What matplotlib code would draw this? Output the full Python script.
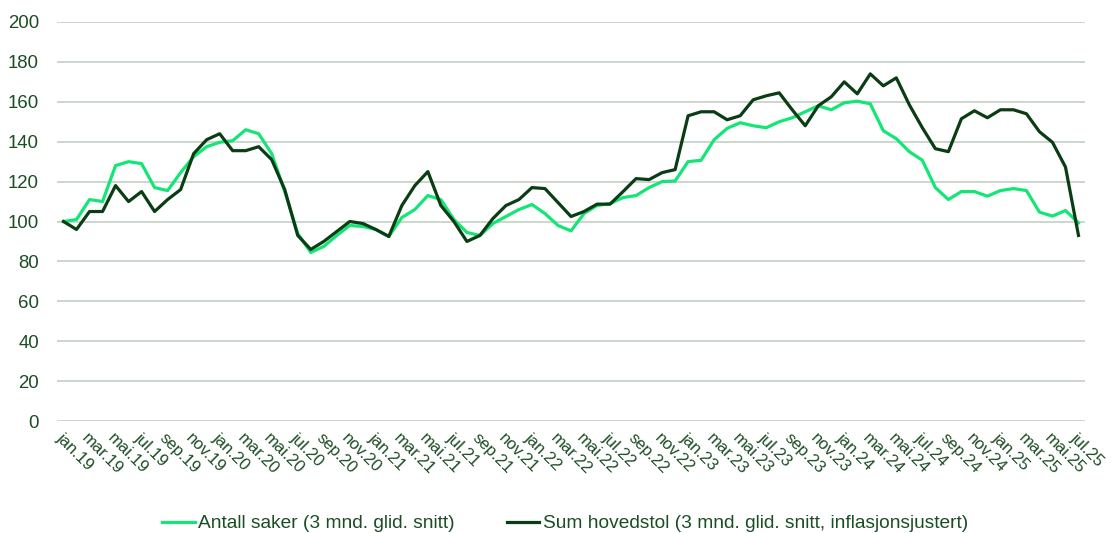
import matplotlib
matplotlib.use('agg')
import matplotlib.pyplot as plt
import numpy as np

plt.rcParams['font.family'] = ['Liberation Sans', 'DejaVu Sans']

#month labels, jan.19 to jul.25
mnd = ['jan', 'feb', 'mar', 'apr', 'mai', 'jun', 'jul', 'aug', 'sep', 'okt', 'nov', 'des']
months = [f'{m}.{y}' for y in range(19, 26) for m in mnd][:79]

#Antall saker (3 mnd. glid. snitt)
antall = [100, 101, 111, 110, 128, 130, 129, 117, 115.5, 124.5, 132.5, 137.5,
          139.7, 140.5, 146, 144, 134, 115, 94, 84.5, 87.5, 93, 98, 97.5,
          96, 92.5, 102, 106, 113, 111, 101, 94.5, 93, 99, 102.5, 106,
          108.5, 104, 98, 95.3, 104, 108, 109, 112, 113, 117, 120, 120.3,
          130, 130.7, 141, 146.7, 149.5, 148, 147, 150, 152, 155, 158, 156,
          159.5, 160.3, 159, 145.5, 141.5, 135, 130.7, 117, 111, 115, 115, 112.7,
          115.5, 116.5, 115.5, 104.7, 102.7, 105.5, 99.3]

#Sum hovedstol (3 mnd. glid. snitt, inflasjonsjustert)
hovedstol = [100, 96, 105, 105, 118, 110, 115, 105, 111, 116, 134, 141,
             144, 135.5, 135.5, 137.5, 131, 116, 93, 86, 90, 95, 100, 99,
             96, 92.5, 108, 118, 125, 108, 100, 90, 93, 101.5, 108, 111,
             117, 116.5, 109.5, 102.5, 105, 108.7, 108.7, 115, 121.5, 121, 124.5, 126,
             153, 155, 155, 151, 153, 161, 163, 164.5, 156, 148, 158, 162.5,
             170, 164, 174, 168, 172, 158.5, 147, 136.5, 135, 151.5, 155.5, 152,
             156, 156, 154, 145, 139.7, 127.3, 93]

light = '#14e676'
dark = '#0a3d14'
txt = '#1b4d24'
grid = '#c9d3c9'

fig = plt.figure(figsize=(11.15, 5.33), dpi=100)
ax = fig.add_axes([57 / 1115, 1 - 421 / 533, (1085 - 57) / 1115, (421 - 22) / 533])

x = np.arange(len(months))
ax.plot(x, antall, color=light, lw=2.3, label='Antall saker (3 mnd. glid. snitt)', solid_joinstyle='round')
ax.plot(x, hovedstol, color=dark, lw=2.3, label='Sum hovedstol (3 mnd. glid. snitt, inflasjonsjustert)', solid_joinstyle='round')

ax.set_xlim(-0.5, len(months) - 0.5)
ax.set_ylim(0, 200)
ax.set_yticks(np.arange(0, 201, 20))
ax.yaxis.grid(True, color=grid, lw=1.3)
ax.set_axisbelow(True)
for s in ax.spines.values():
    s.set_visible(False)
ax.tick_params(axis='both', length=0, colors=txt)
ax.tick_params(axis='y', pad=13, labelsize=13.4)

ax.set_xticks(x[::2])
ax.set_xticklabels(months[::2], rotation=-45, ha='left', va='top', rotation_mode='anchor')
ax.tick_params(axis='x', pad=7, labelsize=12)

leg = fig.legend(loc='lower center', bbox_to_anchor=(0.507, -0.031), ncol=2, frameon=False,
                 fontsize=13.8, handlelength=1.7, columnspacing=2.7, handletextpad=0.2)
for t in leg.get_texts():
    t.set_color(txt)

plt.savefig('out.png', dpi=100)
